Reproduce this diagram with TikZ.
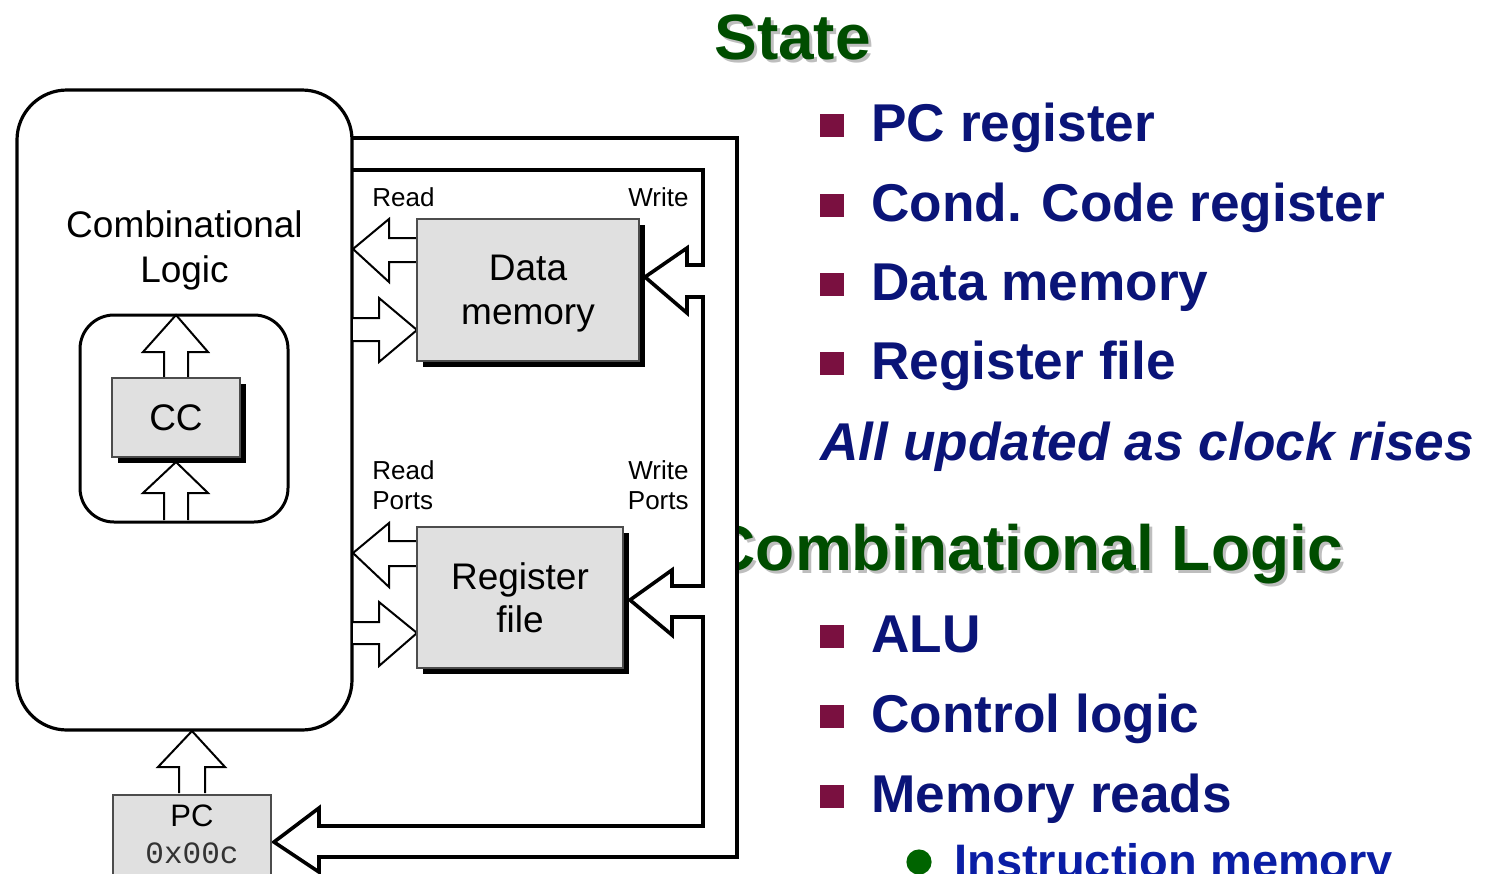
\documentclass[tikz,border=0pt]{standalone}
\usepackage{fontspec}
\setmainfont{Liberation Sans}
\setmonofont{Liberation Mono}
\usetikzlibrary{shadows}
\definecolor{navy}{RGB}{10,20,120}
\definecolor{bulletred}{RGB}{122,16,64}
\definecolor{headgreen}{RGB}{0,77,0}
\definecolor{boxgray}{RGB}{224,224,224}
\definecolor{instblue}{RGB}{10,30,165}
\definecolor{dotgreen}{RGB}{0,100,0}
\definecolor{headshadow}{RGB}{190,190,190}
\begin{document}
\begin{tikzpicture}[x=0.5pt,y=-0.5pt,
  roundbox/.style={draw, line width=1.6pt, fill=white, inner sep=0pt},
  statebox/.style={draw=black!70, line width=0.6pt, fill=boxgray, inner sep=0pt,
    drop shadow={shadow xshift=3pt, shadow yshift=-3pt, fill=black, opacity=1},
    font=\fontsize{18.5}{21.5}\selectfont, align=center},
  lbl/.style={inner sep=0pt, font=\fontsize{18.5}{22}\selectfont},
  port/.style={inner sep=0pt, font=\fontsize{13}{15}\selectfont},
  blockarrow/.style={draw, line width=1pt, fill=white, line join=miter},
  bigarrow/.style={draw, line width=1.8pt, line join=miter},
  head/.style={inner sep=0pt, font=\fontsize{32}{36}\selectfont\bfseries},
  item/.style={inner sep=0pt, text=navy, font=\fontsize{26.6}{30}\selectfont\bfseries},
  bullet/.style={fill=bulletred, minimum width=12pt, minimum height=11.5pt, inner sep=0pt}
]
\useasboundingbox (0,0) rectangle (1488,873);

% ---------- right-hand text ----------
\node[head, text=headshadow, anchor=base west] (stateS) at (717,62) {State};
\node[head, text=headgreen, anchor=base west] (state) at (714,59) {State};

\foreach \y/\t [count=\i] in {141/PC register, 221/Cond. Code register, 300/Data memory, 379/Register file}{
  \node[bullet] (sb\i) at (832,\y-15.5) {};
  \node[item, anchor=base west] (st\i) at (871,\y) {\t};
}
\node[item, anchor=base west, font=\fontsize{26.6}{30}\selectfont\bfseries\itshape] (allupd) at (820,460) {All updated as clock rises};

\begin{scope}
  \clip (737,480) rectangle (1488,620);
  \node[head, text=headshadow, anchor=base east] (combS) at (1346,573) {Combinational Logic};
  \node[head, text=headgreen, anchor=base east] (comb) at (1343,570) {Combinational Logic};
\end{scope}

\foreach \y/\t [count=\i] in {652/ALU, 732/Control logic, 812/Memory reads}{
  \node[bullet] (cb\i) at (832,\y-15.5) {};
  \node[item, anchor=base west] (ct\i) at (871,\y) {\t};
}
\fill[dotgreen] (919,862) circle (6.3pt);
\node[inner sep=0pt, anchor=base west, text=instblue, font=\fontsize{23.5}{27}\selectfont\bfseries] (imem) at (954,877) {Instruction memory};

% ---------- feedback path (big block arrows) ----------
\path[bigarrow, fill=white]
  (352,170) -- (703,170) -- (703,265) -- (687,265) -- (687,248) -- (645,277)
  -- (687,313) -- (687,297) -- (703,297) -- (703,586) -- (672,586) -- (672,570)
  -- (630,600) -- (672,635) -- (672,617) -- (703,617) -- (703,826) -- (319,826)
  -- (319,808) -- (274,842) -- (319,872) -- (319,857) -- (737,857) -- (737,138)
  -- (352,138);

% ---------- combinational logic ----------
\node[roundbox, rounded corners=25pt, minimum width=167.5pt, minimum height=320pt] (cl) at (184.5,410) {};
\node[lbl, anchor=base] (cltxt1) at (184.5,237) {Combinational};
\node[lbl, anchor=base] (cltxt2) at (184.5,282) {Logic};

\node[roundbox, line width=1.5pt, rounded corners=17pt, minimum width=104pt, minimum height=103.5pt] (ccbox) at (184,418.5) {};

% CC arrows
\path[blockarrow] (164,378) -- (164,352) -- (143,352) -- (176,315) -- (208,352) -- (188,352) -- (188,378);
\path[blockarrow] (164,520) -- (164,493) -- (143,493) -- (176,462) -- (208,493) -- (188,493) -- (188,520);
\node[statebox, minimum width=64pt, minimum height=39.5pt] (cc) at (176,417.5) {CC};

% ---------- data memory ----------
\path[blockarrow] (417,238) -- (389,238) -- (389,219) -- (353,249) -- (389,282) -- (389,262) -- (417,262);
\path[blockarrow] (353,318) -- (379,318) -- (379,298) -- (417,330) -- (379,362) -- (379,341) -- (353,341);
\node[statebox, minimum width=111pt, minimum height=71pt] (dm) at (528,290) {};
\node[lbl, anchor=base] (dmtxt1) at (528,280) {Data};
\node[lbl, anchor=base] (dmtxt2) at (528,324) {memory};
\node[port, anchor=base west] (dmread) at (372,206) {Read};
\node[port, anchor=base east] (dmwrite) at (689,206) {Write};

% ---------- register file ----------
\path[blockarrow] (417,541) -- (389,541) -- (389,523) -- (353,553) -- (389,587) -- (389,566) -- (417,566);
\path[blockarrow] (353,622) -- (379,622) -- (379,602) -- (417,633) -- (379,666) -- (379,644) -- (353,644);
\node[statebox, minimum width=103pt, minimum height=70.5pt] (rf) at (520,597.5) {Register\\file};
\node[port, anchor=base west, align=left] (rfread1) at (372,479) {Read};
\node[port, anchor=base west] (rfread2) at (372,509) {Ports};
\node[port, anchor=base east] (rfwrite1) at (689,479) {Write};
\node[port, anchor=base east] (rfwrite2) at (689,509) {Ports};

% ---------- PC ----------
\path[blockarrow] (179,793) -- (179,767) -- (158,767) -- (192,731) -- (225,767) -- (205,767) -- (205,793);
\node[draw=black!70, line width=0.6pt, fill=boxgray, minimum width=79pt, minimum height=45pt, inner sep=0pt] (pc) at (192,840) {};
\node[inner sep=0pt, anchor=base, font=\fontsize{15.5}{18}\selectfont] (pctxt) at (192,826) {PC};
\node[inner sep=0pt, anchor=base, text=black!80, font=\fontsize{15.5}{18}\selectfont\ttfamily] (pcval) at (192,863) {0x00c};
\end{tikzpicture}
\end{document}
